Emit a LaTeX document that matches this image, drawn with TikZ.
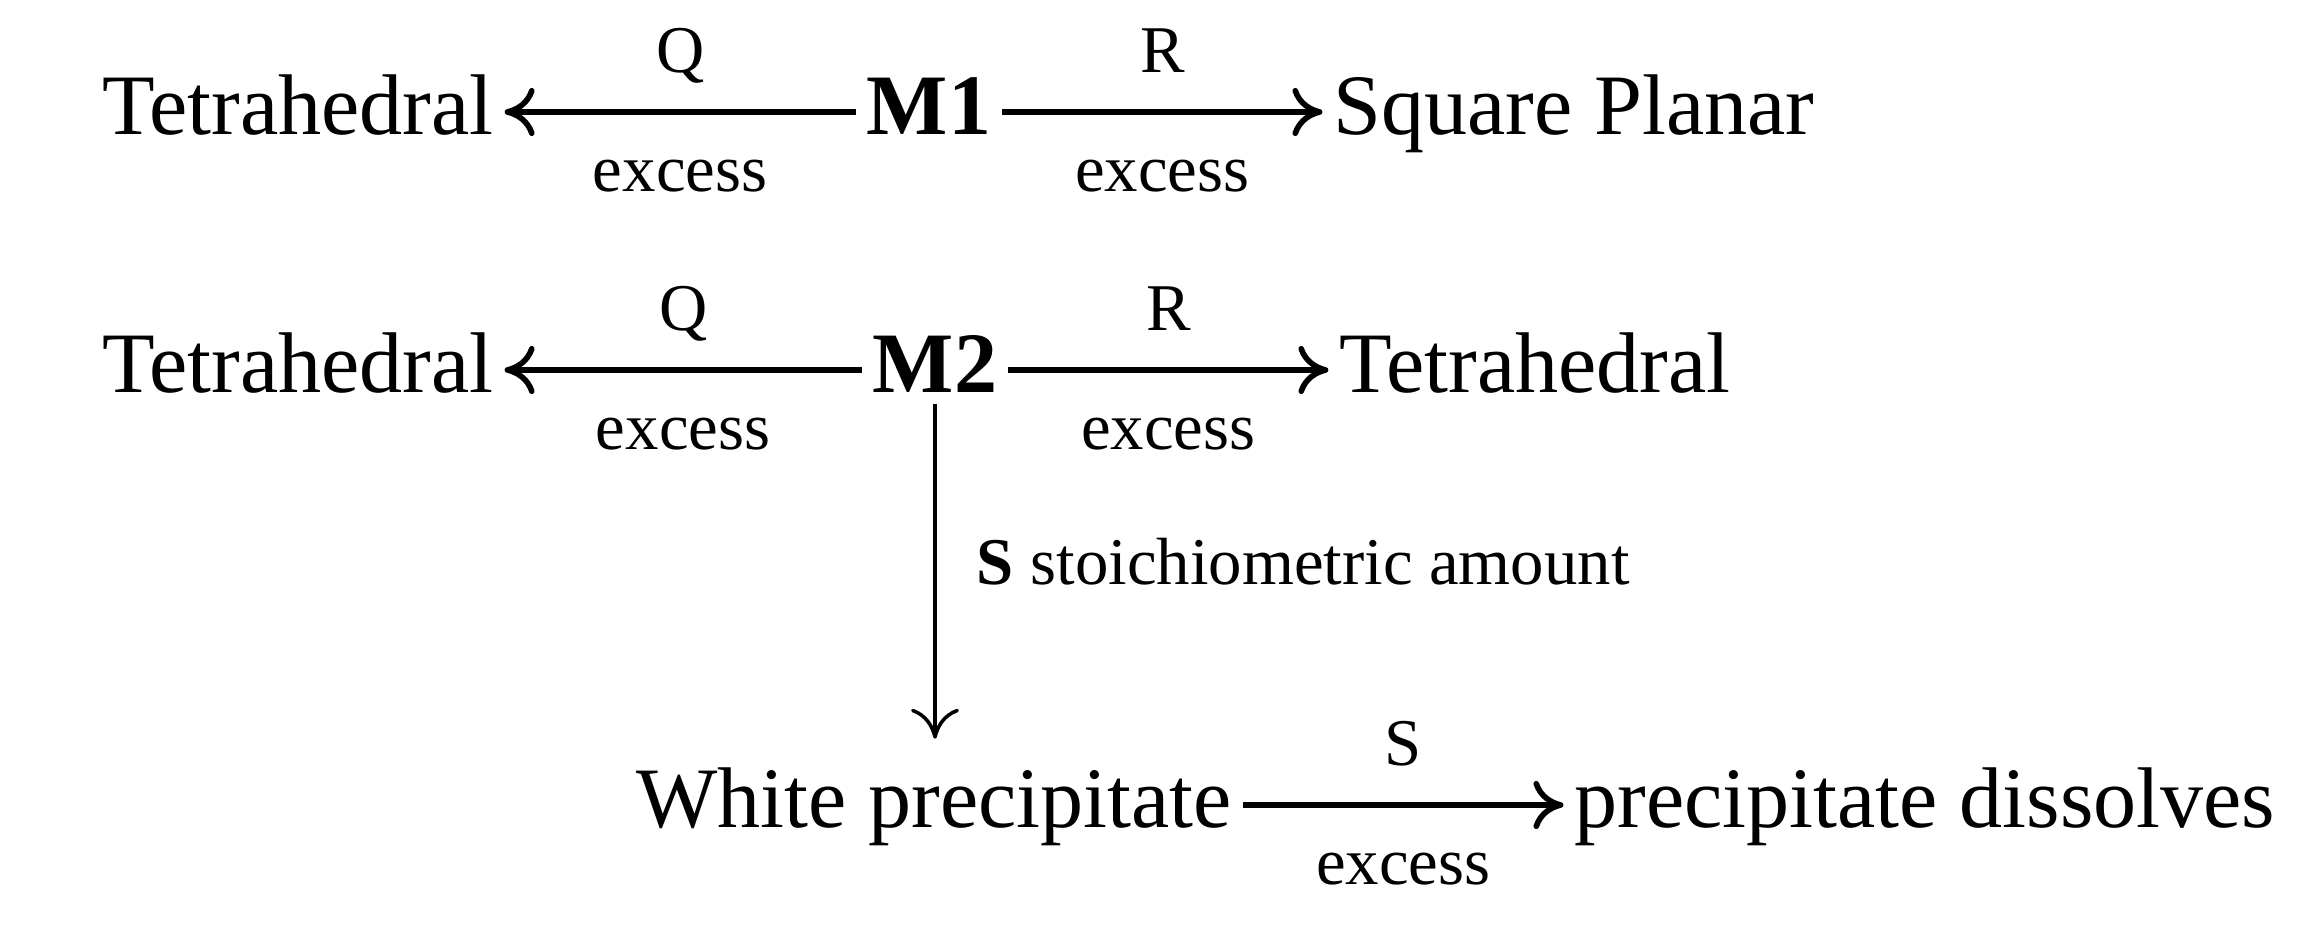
\documentclass[tikz,border=0pt]{standalone}
\usepackage{fontspec}
\setmainfont{Liberation Serif}
\usetikzlibrary{arrows.meta,positioning}
\tikzset{compose/.style={
    inner sep=3pt,
    text height=0.46cm, text depth=0pt,
    font=\fontsize{24.5}{28}\selectfont},
  reactif/.style={
    inner sep=0pt, text depth=0pt,
    font=\fontsize{19}{22}\selectfont},
  fleche/.style={
    draw=black, line width=1.6pt,
    -{Computer Modern Rightarrow[length=0.3cm,width=0.48cm]}}}

\begin{document}
\begin{tikzpicture}
	\useasboundingbox (0,0) rectangle (23.15,9.27);
\coordinate (A) at (2.98,8.15);
\coordinate (B) at (9.29,8.15);
\coordinate (C) at (15.74,8.15);
\coordinate (D) at (2.98,5.57);
\coordinate (E) at (9.35,5.57);
\coordinate (F) at (15.35,5.57);
\coordinate (G) at (9.34,1.22);
\coordinate (H) at (19.25,1.22);

\node[compose] (tetA) at (A) {Tetrahedral};
\node[compose] (mA) at (B) {\textbf{M1}};
\node[compose] (sqA) at (C) {Square Planar};
\node[compose] (tetB) at (D) {Tetrahedral};
\node[compose] (mB) at (E) {\textbf{M2}};
\node[compose] (tetC) at (F) {Tetrahedral};
\node[compose] (white) at (G) {White precipitate};
\node[compose] (diss) at (H) {precipitate dissolves};

\path[fleche] (mA) -- (tetA)
  node[reactif, midway, above=0.37cm] {Q}
  node[reactif, midway, below=0.45cm] {excess};
\path[fleche] (mA) -- (sqA)
  node[reactif, midway, above=0.37cm] {R}
  node[reactif, midway, below=0.45cm] {excess};
\path[fleche] (mB) -- (tetB)
  node[reactif, midway, above=0.37cm] {Q}
  node[reactif, midway, below=0.45cm] {excess};
\path[fleche] (mB) -- (tetC)
  node[reactif, midway, above=0.37cm] {R}
  node[reactif, midway, below=0.45cm] {excess};
\path[fleche, line width=1pt, shorten >=0.32cm] (mB.south) -- (mB.south |- white.north)
  node[reactif, pos=0.43, right=0.4cm] {\textbf{S} stoichiometric amount};
\path[fleche] (white) -- (diss)
  node[reactif, midway, above=0.37cm] {S}
  node[reactif, midway, below=0.45cm] {excess};

\end{tikzpicture}
\end{document}
